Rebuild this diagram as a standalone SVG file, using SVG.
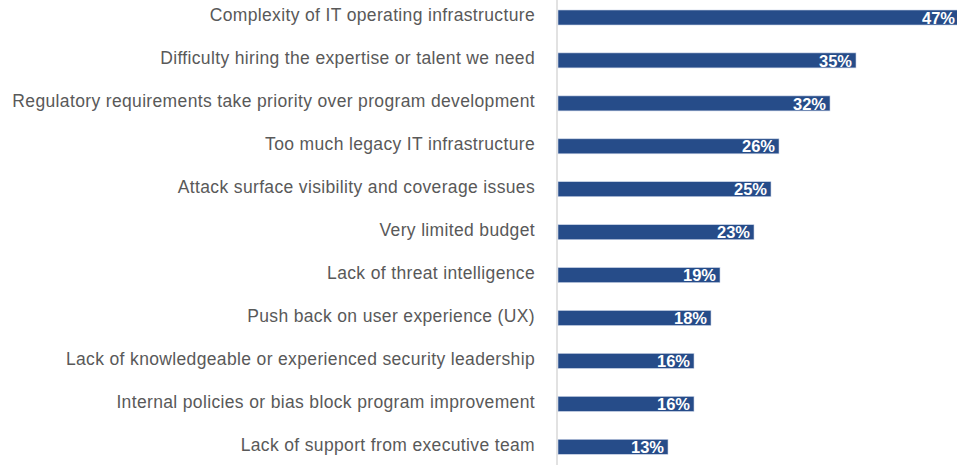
<svg xmlns="http://www.w3.org/2000/svg" width="957" height="465" viewBox="0 0 957 465">
<style>
.lbl{font-family:"Liberation Sans",Arial,sans-serif;font-size:17.5px;letter-spacing:0.35px;fill:#595959;text-anchor:end}
.val{font-family:"Liberation Sans",Arial,sans-serif;font-size:16.5px;font-weight:bold;fill:#ffffff;text-anchor:end}
.bar{fill:#264c89;stroke:#c9d3e6;stroke-width:0.6}
</style>
<rect width="957" height="465" fill="#ffffff"/>
<g id="axis"><line x1="557" y1="0" x2="557" y2="465" stroke="#d9d9d9" stroke-width="1.5"/></g>
<g id="row1"><text class="lbl" x="535" y="21.3">Complexity of IT operating infrastructure</text><rect class="bar" x="558" y="10" width="400" height="15"/><text class="val" x="955" y="23.6">47%</text></g>
<g id="row2"><text class="lbl" x="535" y="64.2">Difficulty hiring the expertise or talent we need</text><rect class="bar" x="558" y="52.9" width="298" height="15"/><text class="val" x="852" y="66.5">35%</text></g>
<g id="row3"><text class="lbl" x="535" y="107.2">Regulatory requirements take priority over program development</text><rect class="bar" x="558" y="95.9" width="272" height="15"/><text class="val" x="826" y="109.5">32%</text></g>
<g id="row4"><text class="lbl" x="535" y="150.1">Too much legacy IT infrastructure</text><rect class="bar" x="558" y="138.8" width="221" height="15"/><text class="val" x="775" y="152.4">26%</text></g>
<g id="row5"><text class="lbl" x="535" y="193">Attack surface visibility and coverage issues</text><rect class="bar" x="558" y="181.7" width="213" height="15"/><text class="val" x="767" y="195.3">25%</text></g>
<g id="row6"><text class="lbl" x="535" y="236">Very limited budget</text><rect class="bar" x="558" y="224.7" width="196" height="15"/><text class="val" x="750" y="238.3">23%</text></g>
<g id="row7"><text class="lbl" x="535" y="278.9">Lack of threat intelligence</text><rect class="bar" x="558" y="267.6" width="162" height="15"/><text class="val" x="716" y="281.2">19%</text></g>
<g id="row8"><text class="lbl" x="535" y="321.8">Push back on user experience (UX)</text><rect class="bar" x="558" y="310.5" width="153" height="15"/><text class="val" x="707" y="324.1">18%</text></g>
<g id="row9"><text class="lbl" x="535" y="364.7">Lack of knowledgeable or experienced security leadership</text><rect class="bar" x="558" y="353.4" width="136" height="15"/><text class="val" x="690" y="367">16%</text></g>
<g id="row10"><text class="lbl" x="535" y="407.7">Internal policies or bias block program improvement</text><rect class="bar" x="558" y="396.4" width="136" height="15"/><text class="val" x="690" y="410">16%</text></g>
<g id="row11"><text class="lbl" x="535" y="450.6">Lack of support from executive team</text><rect class="bar" x="558" y="439.3" width="110" height="15"/><text class="val" x="664" y="452.9">13%</text></g>
</svg>
